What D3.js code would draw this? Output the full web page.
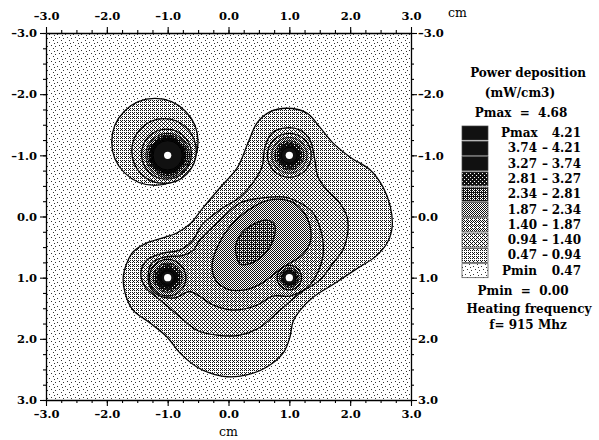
<!DOCTYPE html>
<head>
<meta charset="utf-8">
<title>Power deposition</title>
<script src="https://d3js.org/d3.v7.min.js"></script>
<style>
body { margin: 0; background: #fff; }
text { font-family: "DejaVu Serif", serif; }
</style>
</head>
<body>
<div id="container"></div>
<script>
//---------------------------- DATA ----------------------------//
const xTicks = [-3, -2, -1, 0, 1, 2, 3];
const yTicks = [-3, -2, -1, 0, 1, 2, 3];
const minorStep = 0.25;

// contour levels (mW/cm3)
const levels = [0.47, 0.94, 1.40, 1.87, 2.34, 2.81, 3.27, 3.74, 4.21];
const pmax = 4.68;
const pmin = 0.00;
const freq = 915;

// antenna positions (cm)
const sources = [[-1, -1], [1, -1], [-1, 1], [1, 1]];

// main blob contours (cm)
const blob047 = [[0.96,-1.77],[1.29,-1.69],[1.50,-1.46],[1.72,-1.20],[2.00,-0.97],[2.33,-0.76],
  [2.54,-0.48],[2.66,-0.16],[2.69,0.17],[2.61,0.43],[2.41,0.66],[2.13,0.84],[1.75,1.09],
  [1.39,1.32],[1.18,1.53],[1.06,1.72],[1.01,1.97],[0.90,2.23],[0.63,2.46],[0.30,2.59],
  [-0.02,2.62],[-0.30,2.56],[-0.52,2.46],[-0.80,2.23],[-1.01,1.97],[-1.29,1.74],[-1.57,1.53],
  [-1.70,1.25],[-1.73,0.99],[-1.67,0.76],[-1.57,0.58],[-1.34,0.43],[-1.08,0.35],[-0.85,0.27],
  [-0.63,0.12],[-0.42,-0.14],[-0.14,-0.47],[0.14,-0.79],[0.32,-1.20],[0.47,-1.53],[0.68,-1.71]];
const blob094 = [[0.96,-1.45],[1.18,-1.41],[1.34,-1.25],[1.42,-0.92],[1.47,-0.65],[1.62,-0.43],
  [1.83,-0.22],[1.95,0.01],[1.96,0.27],[1.88,0.55],[1.72,0.76],[1.50,1.04],[1.18,1.25],
  [0.85,1.53],[0.52,1.81],[0.19,1.94],[-0.19,1.94],[-0.52,1.86],[-0.80,1.64],[-1.13,1.36],
  [-1.37,1.15],[-1.44,0.92],[-1.34,0.71],[-1.08,0.60],[-0.80,0.55],[-0.58,0.38],[-0.44,0.14],
  [-0.14,-0.11],[0.19,-0.32],[0.40,-0.55],[0.55,-0.81],[0.60,-1.14],[0.72,-1.37]];
const blob140 = [[-0.47,0.38],[-0.14,0.06],[0.19,-0.22],[0.52,-0.30],[0.90,-0.32],[1.18,-0.22],
  [1.39,-0.06],[1.50,0.17],[1.55,0.38],[1.55,0.66],[1.47,0.91],[1.31,1.15],[1.01,1.30],
  [0.73,1.30],[0.47,1.45],[0.07,1.53],[-0.25,1.45],[-0.63,1.23],[-0.88,1.33],[-1.13,1.30],
  [-1.29,1.15],[-1.32,0.96],[-1.26,0.76],[-1.04,0.66],[-0.76,0.64],[-0.58,0.55]];
const blob187 = [[-0.27,0.79],[-0.17,0.47],[0.02,0.17],[0.35,-0.12],[0.68,-0.27],[1.01,-0.25],
  [1.22,-0.09],[1.34,0.16],[1.34,0.43],[1.21,0.63],[0.88,0.84],[0.55,1.09],[0.27,1.20],
  [-0.01,1.19],[-0.21,1.04]];
const blob234 = [[0.14,0.68],[0.12,0.47],[0.22,0.27],[0.42,0.12],[0.62,0.06],[0.75,0.12],
  [0.76,0.30],[0.68,0.50],[0.52,0.68],[0.32,0.78],[0.19,0.78]];

// isolated source rings: [cx, cy, r] in cm, first ring is the 0.47 contour
const ringsUL = [[-1.21,-1.22,0.71],[-1.06,-1.07,0.53],[-1.02,-1.02,0.41],[-1.0,-1.0,0.36],
  [-1.0,-1.0,0.33],[-1.0,-1.0,0.30],[-1.0,-1.0,0.28],[-1.0,-1.0,0.26],[-1.0,-1.0,0.24]];
// rings round the other sources, radius in cm
const ringsUR = [0.36, 0.29, 0.24, 0.20, 0.16, 0.13];
const ringsLL = [0.30, 0.24, 0.20, 0.16, 0.13, 0.11];
const ringsLR = [0.20, 0.16, 0.13, 0.11];
const dotR = 0.06;

//---------------------------- SVG ----------------------------//
const width = 599, height = 440;
const svg = d3.select("#container").append("svg")
  .attr("width", width).attr("height", height);

const x = d3.scaleLinear().domain([-3, 3]).range([46, 411]);
const y = d3.scaleLinear().domain([-3, 3]).range([33, 400]);

// dither patterns, one per band (0 = below 0.47 ... 9 = above 4.21)
const bayer = [0,8,2,10,12,4,14,6,3,11,1,9,15,7,13,5];
const shades = [0, 5, 6, 7, 8, 11, 14, 16, 16, 16];
const defs = svg.append("defs");
shades.forEach(function(n, k) {
  if (k === 0) return;
  const p = defs.append("pattern").attr("id", "lv" + k)
    .attr("patternUnits", "userSpaceOnUse").attr("width", 4).attr("height", 4);
  p.append("rect").attr("width", 4).attr("height", 4).attr("fill", "#fff");
  bayer.forEach(function(b, i) {
    if (b < n) p.append("rect").attr("x", i % 4).attr("y", Math.floor(i / 4))
      .attr("width", 1).attr("height", 1).attr("fill", "#111");
  });
});
// lightest band: sparse, uneven speckle
const speck = defs.append("pattern").attr("id", "lv0")
  .attr("patternUnits", "userSpaceOnUse").attr("width", 8).attr("height", 8);
speck.append("rect").attr("width", 8).attr("height", 8).attr("fill", "#fff");
[[1,2],[5,0],[3,5],[7,6],[6,3]].forEach(d =>
  speck.append("rect").attr("x", d[0]).attr("y", d[1])
    .attr("width", 1).attr("height", 1).attr("fill", "#333"));
const fill = k => "url(#lv" + Math.min(k, 9) + ")";

defs.append("clipPath").attr("id", "plotclip").append("rect")
  .attr("x", x(-3)).attr("y", y(-3))
  .attr("width", x(3) - x(-3)).attr("height", y(3) - y(-3));

const plot = svg.append("g").attr("clip-path", "url(#plotclip)");

// background band
plot.append("rect")
  .attr("x", x(-3)).attr("y", y(-3))
  .attr("width", x(3) - x(-3)).attr("height", y(3) - y(-3))
  .attr("fill", fill(0));

const line = d3.line()
  .x(d => x(d[0])).y(d => y(d[1]))
  .curve(d3.curveCatmullRomClosed.alpha(0.5));

function ring(g, cx, cy, r, k, sw) {
  g.append("ellipse")
    .attr("cx", x(cx)).attr("cy", y(cy))
    .attr("rx", x(cx + r) - x(cx)).attr("ry", y(cy + r) - y(cy))
    .attr("fill", fill(k)).attr("stroke", "#000").attr("stroke-width", sw);
}

//-------------------------- CONTOURS --------------------------//
// isolated upper-left source
ringsUL.forEach((d, i) => ring(plot, d[0], d[1], d[2], i + 1, i < 3 ? 1.3 : 1.0));

// main blob
const blobs = [blob047, blob094, blob140, blob187, blob234];
plot.selectAll(".blob").data(blobs).join("path")
  .attr("class", "blob")
  .attr("d", d => line(d))
  .attr("fill", (d, i) => fill(i + 1))
  .attr("stroke", "#000").attr("stroke-width", 1.3);

// rings round the three sources inside the blob
ringsUR.forEach((r, i) => ring(plot, sources[1][0], sources[1][1], r, i + 3, i < 1 ? 1.3 : 0.9));
ringsLL.forEach((r, i) => ring(plot, sources[2][0], sources[2][1], r, i + 4, i < 1 ? 1.3 : 0.9));
ringsLR.forEach((r, i) => ring(plot, sources[3][0], sources[3][1], r, [4, 5, 6, 8][i], i < 1 ? 1.3 : 0.9));

// white antenna dots
plot.selectAll(".src").data(sources).join("ellipse")
  .attr("class", "src")
  .attr("cx", d => x(d[0])).attr("cy", d => y(d[1]))
  .attr("rx", d => x(d[0] + dotR) - x(d[0]))
  .attr("ry", d => y(d[1] + dotR) - y(d[1]))
  .attr("fill", "#fff");

//---------------------------- AXES ----------------------------//
const fmt = d => d3.format(".1f")(d).replace("\u2212", "\u2013").replace("-", "\u2013");
const minor = d3.range(-3, 3 + 1e-9, minorStep);

function styleAxis(g) {
  g.selectAll("text")
    .style("font-family", "DejaVu Serif").style("font-weight", "bold")
    .style("font-size", "11.5px").attr("fill", "#000");
  g.selectAll("line").attr("stroke", "#000").attr("stroke-width", 1.1);
  g.select(".domain").attr("stroke", "#000").attr("stroke-width", 1.3);
}

const axes = [
  [d3.axisTop(x), "translate(0," + y(-3) + ")", xTicks, 7],
  [d3.axisBottom(x), "translate(0," + y(3) + ")", xTicks, 4],
  [d3.axisLeft(y), "translate(" + x(-3) + ",0)", yTicks, 3],
  [d3.axisRight(y), "translate(" + x(3) + ",0)", yTicks, 1]
];
axes.forEach(function(a) {
  svg.append("g").attr("transform", a[1])
    .call(a[0].tickValues(minor).tickSize(3).tickSizeOuter(0).tickFormat(""))
    .call(styleAxis)
    .call(g => g.select(".domain").remove());
  svg.append("g").attr("transform", a[1])
    .call(a[0].tickValues(a[2]).tickSize(6).tickSizeOuter(0).tickPadding(a[3]).tickFormat(fmt))
    .call(styleAxis);
});

svg.append("text").attr("x", 448).attr("y", 17)
  .style("font-size", "12.5px").text("cm");
svg.append("text").attr("x", x(0)).attr("y", 436)
  .attr("text-anchor", "middle").style("font-size", "12.5px").text("cm");

//--------------------------- LEGEND ---------------------------//
const f2 = d3.format(".2f");
const legend = svg.append("g")
  .style("font-weight", "bold").style("font-size", "12px");

function ltext(tx, ty, anchor, s) {
  legend.append("text").attr("x", tx).attr("y", ty)
    .attr("xml:space", "preserve")
    .attr("text-anchor", anchor).text(s);
}
ltext(528, 77, "middle", "Power deposition");
ltext(520, 97, "middle", "(mW/cm3)");
ltext(521, 117, "middle", "Pmax  =  " + f2(pmax));

const legTop = 126, rowH = 15.3;
d3.range(9, -1, -1).forEach(function(k, i) {
  const ty = legTop + i * rowH;
  legend.append("rect")
    .attr("x", 462).attr("y", ty).attr("width", 26).attr("height", 14)
    .attr("fill", fill(k)).attr("stroke", "#444").attr("stroke-width", 0.7);
  const base = ty + 11;
  if (k === 9) {
    ltext(501, base, "start", "Pmax");
    ltext(581, base, "end", f2(levels[8]));
  } else if (k === 0) {
    ltext(502, base, "start", "Pmin");
    ltext(581, base, "end", f2(levels[0]));
  } else {
    ltext(537, base, "end", f2(levels[k - 1]));
    ltext(545, base, "middle", "\u2013");
    ltext(581, base, "end", f2(levels[k]));
  }
});

ltext(523, 295, "middle", "Pmin  =  " + f2(pmin));
ltext(529, 313, "middle", "Heating frequency");
ltext(528, 329, "middle", "f= " + freq + " Mhz");
</script>
</body>
